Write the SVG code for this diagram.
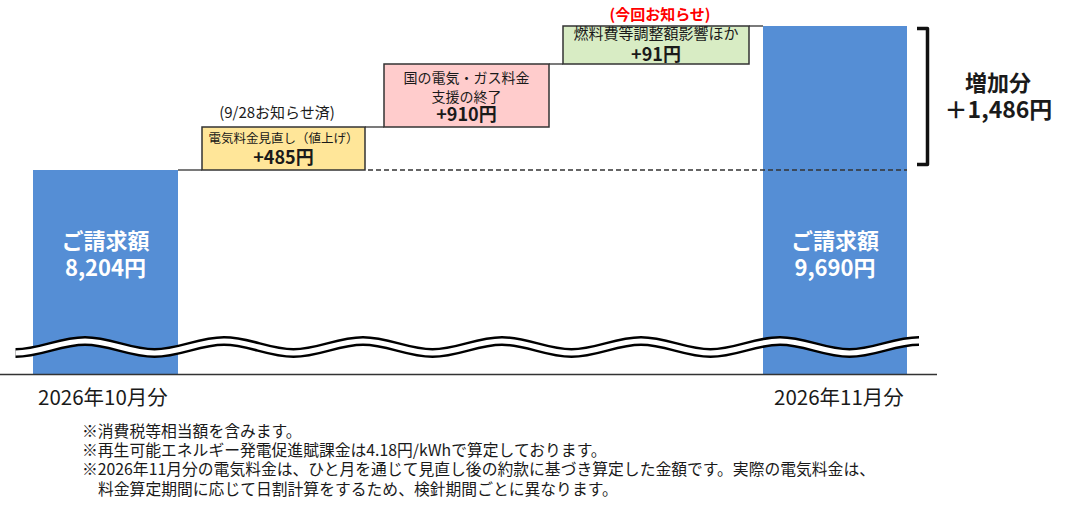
<svg xmlns="http://www.w3.org/2000/svg" width="1077" height="513" viewBox="0 0 1077 513">
<style>
text{font-family:"Noto Sans CJK JP","Noto Sans",sans-serif;fill:#1a1a1a}
.bar{fill:#558ed5}
.box{stroke:#333;stroke-width:1.5}
.w{fill:#fff;font-weight:bold;font-size:22px;text-anchor:middle}
.c{text-anchor:middle}
.b{font-weight:bold}
.conn{stroke:#222;stroke-width:1.2;fill:none}
.note{font-size:15.8px}
</style>
<defs>
<path id="wave" d="M15.5 353 C40.8 353 59.7 341 85 341 S129.2 353 154.5 353 S198.7 341 224 341 S268.2 353 293.5 353 S337.7 341 363 341 S407.2 353 432.5 353 S476.7 341 502 341 S546.2 353 571.5 353 S615.7 341 641 341 S685.2 353 710.5 353 S754.7 341 780 341 S824.2 353 849.5 353 S893.7 341 919 341" fill="none"/>
</defs>
<rect width="1077" height="513" fill="#fff"/>
<g id="bar-oct">
<rect class="bar" x="33" y="170" width="145" height="204"/>
<text class="w" x="105.5" y="249">ご請求額</text>
<text class="w" x="105.5" y="276">8,204円</text>
</g>
<g id="bar-nov">
<rect class="bar" x="763" y="26" width="144" height="348"/>
<text class="w" x="835" y="249">ご請求額</text>
<text class="w" x="835" y="276">9,690円</text>
</g>
<g id="connectors">
<line class="conn" x1="178" y1="170" x2="202" y2="170"/>
<line class="conn" x1="365" y1="127" x2="384" y2="127"/>
<line class="conn" x1="549" y1="64" x2="563" y2="64"/>
<line class="conn" x1="749" y1="26" x2="763" y2="26"/>
<line x1="368" y1="170" x2="907" y2="170" stroke="#333" stroke-width="1.5" stroke-dasharray="5 3"/>
</g>
<g id="step-485">
<rect class="box" x="202" y="127" width="163" height="43" fill="#ffe699"/>
<text class="c" x="283.5" y="143" font-size="12.5">電気料金見直し（値上げ）</text>
<text class="c b" x="283.5" y="164" font-size="18">+485円</text>
<text class="c" x="277" y="118" font-size="15">(9/28お知らせ済)</text>
</g>
<g id="step-910">
<rect class="box" x="384" y="64" width="165" height="63" fill="#ffcccc"/>
<text class="c" x="466.5" y="83" font-size="14">国の電気・ガス料金</text>
<text class="c" x="466.5" y="102" font-size="14">支援の終了</text>
<text class="c b" x="466.5" y="121" font-size="18">+910円</text>
</g>
<g id="step-91">
<rect class="box" x="563" y="26" width="186" height="38" fill="#d8ecc4"/>
<text class="c" x="656" y="39" font-size="15">燃料費等調整額影響ほか</text>
<text class="c b" x="656" y="61" font-size="18">+91円</text>
<text class="c b" x="660" y="20" font-size="15" style="fill:#ff0000">(今回お知らせ)</text>
</g>
<g id="increase">
<path d="M917 28.5 H927.5 V164.5 H917" fill="none" stroke="#111" stroke-width="3.5" stroke-linejoin="round"/>
<text class="c b" x="998" y="91" font-size="22">増加分</text>
<text class="c b" x="998.5" y="118" font-size="23">＋1,486円</text>
</g>
<g id="axis">
<line x1="0" y1="374.5" x2="937" y2="374.5" stroke="#333" stroke-width="1.5"/>
<use href="#wave" stroke="#000" stroke-width="10"/>
<use href="#wave" stroke="#fff" stroke-width="5"/>
</g>
<g id="labels">
<text x="103" y="405" class="c" font-size="20.5">2026年10月分</text>
<text x="839" y="405" class="c" font-size="20.5">2026年11月分</text>
</g>
<g id="notes">
<text class="note" x="82" y="437">※消費税等相当額を含みます。</text>
<text class="note" x="82" y="456">※再生可能エネルギー発電促進賦課金は4.18円/kWhで算定しております。</text>
<text class="note" x="82" y="475">※2026年11月分の電気料金は、ひと月を通じて見直し後の約款に基づき算定した金額です。実際の電気料金は、</text>
<text class="note" x="98" y="495">料金算定期間に応じて日割計算をするため、検針期間ごとに異なります。</text>
</g>
</svg>
